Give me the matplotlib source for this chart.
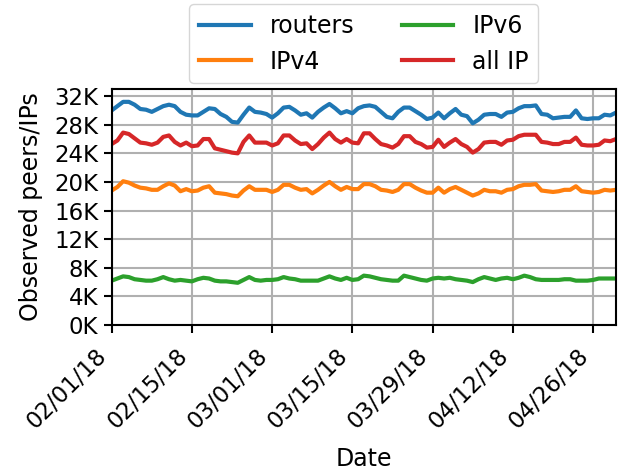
import matplotlib
matplotlib.use("Agg")
import matplotlib.pyplot as plt
import matplotlib.dates as mdates
from matplotlib.ticker import FuncFormatter, MultipleLocator
import numpy as np
import pandas as pd

dates = pd.date_range("2018-02-01", "2018-04-30", freq="D")

routers = [30.0, 30.6, 31.2, 31.2, 30.8, 30.2, 30.1, 29.8, 30.2, 30.6,
           30.8, 30.6, 29.8, 29.4, 29.3, 29.3, 29.8, 30.3, 30.2, 29.5,
           29.1, 28.4, 28.3, 29.4, 30.4, 29.8, 29.7, 29.5, 29.0, 29.6,
           30.4, 30.5, 30.0, 29.4, 29.6, 29.0, 29.8, 30.4, 30.9, 30.3,
           29.6, 29.9, 29.6, 30.3, 30.6, 30.7, 30.5, 29.8, 29.1, 28.9,
           29.8, 30.4, 30.4, 29.9, 29.4, 28.8, 29.0, 29.7, 28.9, 29.6,
           30.2, 29.4, 29.2, 28.2, 28.7, 29.4, 29.5, 29.5, 29.1, 29.7,
           29.8, 30.3, 30.6, 30.6, 30.7, 29.5, 29.4, 28.9, 29.0, 29.1,
           29.1, 30.0, 28.9, 28.8, 28.9, 28.9, 29.4, 29.3, 29.7]

ipv4 = [18.8, 19.3, 20.1, 19.9, 19.5, 19.2, 19.1, 18.9, 18.9, 19.4,
        19.8, 19.5, 18.7, 19.0, 18.7, 18.8, 19.2, 19.4, 18.5, 18.4,
        18.3, 18.1, 18.0, 18.8, 19.4, 18.9, 18.9, 18.9, 18.6, 18.9,
        19.6, 19.6, 19.2, 18.9, 19.0, 18.4, 18.9, 19.5, 20.0, 19.4,
        18.9, 19.3, 19.0, 19.0, 19.7, 19.7, 19.4, 18.9, 18.8, 18.6,
        18.9, 19.7, 19.7, 19.2, 18.8, 18.5, 18.5, 19.2, 18.5, 19.0,
        19.3, 18.9, 18.5, 18.1, 18.4, 18.9, 18.7, 18.7, 18.5, 18.9,
        19.0, 19.4, 19.6, 19.6, 19.7, 18.8, 18.7, 18.6, 18.7, 18.9,
        18.9, 19.4, 18.7, 18.6, 18.5, 18.6, 18.9, 18.8, 18.9]

ipv6 = [6.2, 6.5, 6.8, 6.7, 6.4, 6.3, 6.2, 6.2, 6.4, 6.7,
        6.4, 6.2, 6.3, 6.2, 6.1, 6.4, 6.6, 6.5, 6.2, 6.1,
        6.1, 6.0, 5.9, 6.3, 6.7, 6.3, 6.2, 6.3, 6.3, 6.4,
        6.7, 6.5, 6.4, 6.2, 6.2, 6.2, 6.2, 6.5, 6.8, 6.5,
        6.3, 6.6, 6.3, 6.4, 6.9, 6.8, 6.6, 6.4, 6.3, 6.2,
        6.2, 6.9, 6.7, 6.5, 6.3, 6.2, 6.5, 6.6, 6.5, 6.6,
        6.4, 6.3, 6.2, 6.0, 6.4, 6.7, 6.5, 6.3, 6.5, 6.6,
        6.4, 6.6, 6.9, 6.7, 6.4, 6.3, 6.3, 6.3, 6.3, 6.4,
        6.4, 6.2, 6.2, 6.2, 6.3, 6.5, 6.5, 6.5, 6.5]

all_ip = [25.3, 25.8, 26.9, 26.7, 26.1, 25.5, 25.4, 25.2, 25.5, 26.3,
          26.5, 25.6, 25.1, 25.5, 25.0, 25.1, 26.0, 26.0, 24.7, 24.5,
          24.3, 24.1, 24.0, 25.6, 26.5, 25.5, 25.5, 25.5, 25.1, 25.4,
          26.5, 26.5, 25.8, 25.3, 25.4, 24.6, 25.3, 26.2, 26.9, 26.0,
          25.5, 26.0, 25.5, 25.4, 26.8, 26.8, 26.0, 25.3, 25.1, 24.8,
          25.3, 26.4, 26.4, 25.6, 25.3, 24.8, 24.9, 25.9, 24.9, 25.5,
          26.0, 25.3, 24.9, 24.1, 24.6, 25.5, 25.6, 25.6, 25.2, 25.8,
          25.9, 26.4, 26.6, 26.6, 26.6, 25.6, 25.5, 25.3, 25.3, 25.6,
          25.6, 26.2, 25.2, 25.1, 25.1, 25.2, 25.8, 25.7, 26.0]

series_names = ["routers", "IPv4", "IPv6", "all IP"]
series_colors = ["#1f77b4", "#ff7f0e", "#2ca02c", "#d62728"]
tick_dates = ["2018-02-01", "2018-02-15", "2018-03-01", "2018-03-15",
              "2018-03-29", "2018-04-12", "2018-04-26"]

plt.rcParams["font.family"] = "DejaVu Sans"
plt.rcParams["font.size"] = 17

fig = plt.figure(figsize=(6.18, 4.73), dpi=100)
ax = fig.add_axes([0.1807, 0.3129, 0.8161, 0.499])

for name, vals, col in zip(series_names, [routers, ipv4, ipv6, all_ip], series_colors):
    ax.plot(dates, np.array(vals) * 1000, color=col, lw=3, label=name)

ax.set_xlim(pd.Timestamp("2018-02-01"), pd.Timestamp("2018-04-30"))
ax.set_ylim(0, 33000)
ax.yaxis.set_major_locator(MultipleLocator(4000))
ax.yaxis.set_major_formatter(FuncFormatter(lambda v, p: f"{int(round(v/1000))}K"))
ax.set_xticks([pd.Timestamp(d) for d in tick_dates])
ax.xaxis.set_major_formatter(mdates.DateFormatter("%m/%d/%y"))
ax.tick_params(labelsize=16.5, width=1.5, length=6)
ax.tick_params(axis="x", pad=8)
plt.setp(ax.get_xticklabels(), rotation=45, ha="right")

ax.grid(True, color="#b0b0b0", lw=1.5)
ax.set_axisbelow(True)
for s in ax.spines.values():
    s.set_linewidth(1.5)

ax.set_xlabel("Date", fontsize=17, labelpad=10)
ax.set_ylabel("Observed peers/IPs", fontsize=17, labelpad=8)

ax.legend(loc="lower center", bbox_to_anchor=(0.5, 1.0), ncol=2, fontsize=17,
          handlelength=2.2, columnspacing=2.0, borderaxespad=0.25)

fig.savefig("out.png", dpi=100)
